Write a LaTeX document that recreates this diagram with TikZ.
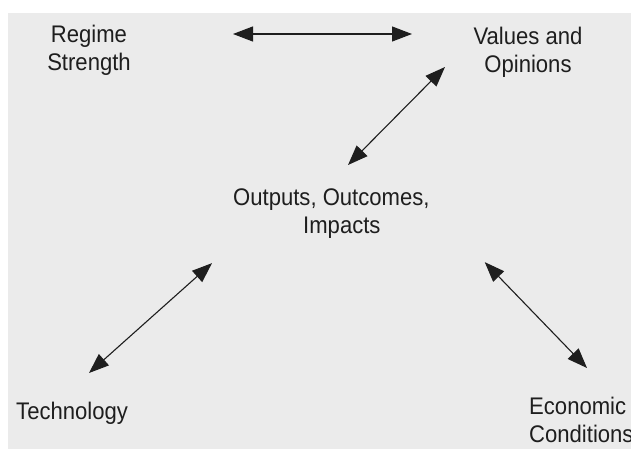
\documentclass[tikz,border=0pt]{standalone}
\usepackage{fontspec}
\setmainfont[FakeStretch=0.92]{Liberation Sans}
\usepackage{tikz}
\usetikzlibrary{arrows.meta,calc}
\definecolor{ink}{HTML}{1E1E1E}
\definecolor{pagebg}{HTML}{EBEBEB}
\tikzset{
  factor/.style={inner sep=0pt,text=ink,font=\fontsize{24}{28}\selectfont},
  link/.style={{Triangle[length=20pt,width=15pt]}-{Triangle[length=20pt,width=15pt]},
               line width=1.1pt,draw=ink},
}

\begin{document}
\begin{tikzpicture}[x=1pt,y=-1pt]
  % scanned page
  \fill[white](0,0)rectangle(631,449);
  \fill[pagebg](8,13)rectangle(631,449);
  \useasboundingbox(0,0)rectangle(631,449);

  \node[factor,anchor=north,align=center](regime)at(89,25){Regime\\Strength};
  \node[factor,anchor=north,align=center](values)at(528,27){Values and\\Opinions};
  \node[factor,anchor=north west,align=left](outputs)at(233,189)
    {Outputs, Outcomes,\\\hspace*{70pt}Impacts};
  \node[factor,anchor=north west](tech)at(16,402){Technology};
  \node[factor,anchor=north west,align=left](econ)at(529,397){Economic\\Conditions};

  \draw[link]($(regime.north)+(144,9)$)--($(values.north)+(-116,7)$);
  \draw[link]($(values.north)+(-83,40)$)--($(outputs.north west)+(115,-24)$);
  \draw[link]($(outputs.south west)+(-21,24)$)--($(tech.north west)+(73,-29)$);
  \draw[link]($(outputs.south east)+(55,23)$)--($(econ.north west)+(58,-29)$);
\end{tikzpicture}
\end{document}
